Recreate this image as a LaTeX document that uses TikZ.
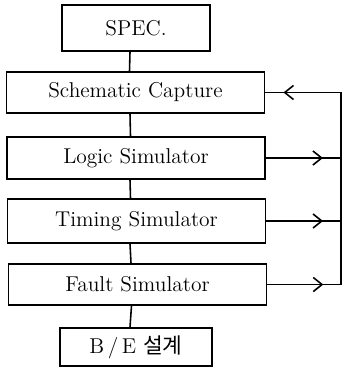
\documentclass[tikz,border=0pt]{standalone}
\usepackage{fontspec}
\newfontfamily\krfont{Noto Sans CJK KR}
\usetikzlibrary{arrows.meta,decorations.markings}

\tikzset{
	blk/.style={draw, line width=0.9pt, inner sep=0pt, minimum width=5.16cm, minimum height=0.84cm, font=\fontsize{12.2}{14}\selectfont},
	tap/.style={line width=0.9pt, postaction={decorate},
		decoration={markings, mark=at position 0.76 with {\arrow{Straight Barb[length=5pt,width=8pt,line width=0.9pt]}}}},
}

\begin{document}
\begin{tikzpicture}[x=0.02cm, y=-0.02cm, line width=0.9pt]
		\useasboundingbox (0,0) rectangle (343,368);
		
		\node[blk, minimum width=2.96cm, minimum height=0.92cm] (spec) at (136,28) {SPEC.};
		\node[blk, minimum height=0.82cm] (schem) at (135.5,92.5) {Schematic Capture};
		\node[blk] (logic) at (136,158) {Logic Simulator};
		\node[blk, minimum height=0.88cm] (timing) at (136.5,221) {Timing Simulator};
		\node[blk, minimum height=0.82cm] (fault) at (137.5,284.5) {Fault Simulator};
		\node[blk, minimum width=3.04cm, minimum height=0.76cm] (be) at (136,347) {B\,/\,E {\krfont 설계}};
		
		\draw ([xshift=-0.12cm]spec.south) -- ([xshift=-0.12cm]schem.north);
		\draw ([xshift=-0.11cm]schem.south) -- ([xshift=-0.11cm]logic.north);
		\draw ([xshift=-0.12cm]logic.south) -- ([xshift=-0.12cm]timing.north);
		\draw ([xshift=-0.13cm]timing.south) -- ([xshift=-0.13cm]fault.north);
		\draw ([xshift=-0.12cm]fault.south) -- ([xshift=-0.12cm]be.north);
		
		% feedback bus
		\coordinate (bus_top) at (341,92.5);
		\coordinate (bus_bot) at (341,284.5);
		\draw (bus_top) -- (bus_bot);
		
		\draw[tap] (bus_top) -- (schem.east);
		\draw[tap] (logic.east) -- (logic.east -| bus_top);
		\draw[tap] (timing.east) -- (timing.east -| bus_top);
		\draw[tap] (fault.east) -- (bus_bot);
	\end{tikzpicture}
\end{document}
